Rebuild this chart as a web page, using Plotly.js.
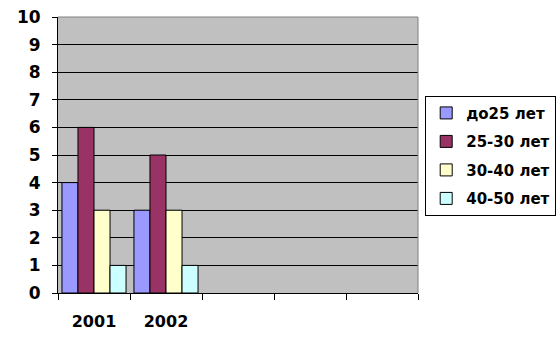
<!DOCTYPE html>
<html>
<head>
<meta charset="utf-8">
<script src="https://cdn.plot.ly/plotly-3.0.1.min.js"></script>
<style>html,body{margin:0;padding:0;background:#fff;}#chart{width:560px;height:354px;}</style>
</head>
<body>
<div id="chart"></div>
<script>
var years = ['2001', '2002'];
var emptySlots = [' ', '  ', '   '];
var seriesNames = ['до25 лет', '25-30 лет', '30-40 лет', '40-50 лет'];
var do25 = [4, 3];
var s25_30 = [6, 5];
var s30_40 = [3, 3];
var s40_50 = [1, 1];
var colors = ['#9999FF', '#993366', '#FFFFCC', '#CCFFFF'];

var values = [do25, s25_30, s30_40, s40_50];
var traces = values.map(function (v, i) {
  return {
    type: 'bar',
    x: years,
    y: v,
    name: '<b>' + seriesNames[i] + '</b>',
    legendgroup: 'g' + i,
    marker: {color: colors[i], line: {color: '#000', width: 1}}
  };
});
// empty category slots (no data) so the axis has five category positions
traces.push({
  type: 'scatter', mode: 'none', x: emptySlots, y: [null, null, null],
  showlegend: false, hoverinfo: 'skip'
});

var fontFam = '"DejaVu Sans", Verdana, sans-serif';
var layout = {
  width: 560, height: 354,
  margin: {l: 58, r: 142, t: 17, b: 61, autoexpand: false},
  paper_bgcolor: '#ffffff',
  plot_bgcolor: '#C0C0C0',
  barmode: 'group',
  bargap: 0.11,
  bargroupgap: 0,
  font: {family: fontFam, color: '#000', weight: 700},
  xaxis: {
    type: 'category',
    categoryorder: 'array',
    categoryarray: years.concat(emptySlots),
    range: [-0.5, 4.5],
    tickson: 'boundaries',
    ticks: 'outside', ticklen: 6, tickcolor: '#000',
    showline: true, linecolor: '#000', linewidth: 1,
    showgrid: false, zeroline: false,
    tickfont: {size: 16, family: fontFam, weight: 700, color: '#000'},
    tickprefix: '<b>', ticksuffix: '</b>',
    ticklabelstandoff: 14,
    fixedrange: true
  },
  yaxis: {
    range: [0, 10], dtick: 1, tick0: 0,
    ticks: 'outside', ticklen: 5, tickcolor: '#000',
    showline: true, linecolor: '#000', linewidth: 1,
    showgrid: true, gridcolor: '#000', gridwidth: 1,
    zeroline: false,
    tickfont: {size: 17, family: fontFam, weight: 700, color: '#000'},
    tickprefix: '<b>', ticksuffix: '</b>',
    ticklabelstandoff: 8,
    fixedrange: true
  },
  showlegend: true,
  legend: {
    x: 1.02, xanchor: 'left', y: 0.715, yanchor: 'top',
    bgcolor: '#fff', bordercolor: '#000', borderwidth: 1,
    font: {size: 15, family: fontFam, weight: 700, color: '#000'},
    tracegroupgap: 6, itemwidth: 30
  },
  shapes: [
    {type: 'line', xref: 'paper', yref: 'paper', x0: 0, x1: 1, y0: 1, y1: 1, line: {color: '#808080', width: 1}},
    {type: 'line', xref: 'paper', yref: 'paper', x0: 1, x1: 1, y0: 0, y1: 1, line: {color: '#808080', width: 1}}
  ]
};

Plotly.newPlot('chart', traces, layout, {staticPlot: true, displayModeBar: false});
</script>
</body>
</html>
